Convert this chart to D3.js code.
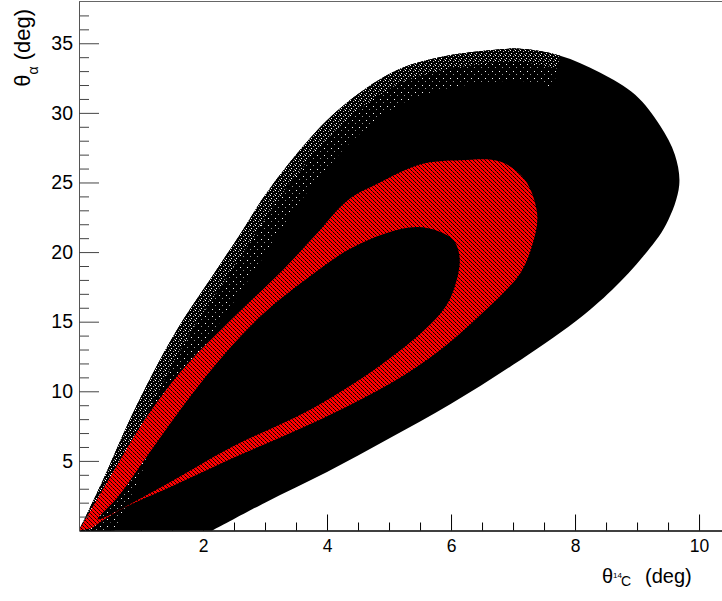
<!DOCTYPE html>
<html lang="en">
<head>
<meta charset="utf-8">
<title>theta alpha vs theta 14C</title>
<script src="https://d3js.org/d3.v7.min.js"></script>
<style>
  body { margin: 0; background: #fff; }
  text { font-family: "Liberation Sans", Arial, sans-serif; }
</style>
</head>
<body>
<div id="chart"></div>
<script>
// outline of the whole event cloud (black), in deg
const envX = [0, 0.39, 0.82, 1.25, 1.68, 2.11, 2.61, 3.10, 4.13, 5.10, 5.82, 6.63, 7.11, 7.76, 8.40, 8.97, 9.37, 9.61, 9.68, 9.47, 9.10, 8.60, 8.0, 7.0, 6.0, 5.0, 4.0, 3.0, 2.15];
const envY = [0, 3.64, 7.95, 11.78, 15.13, 18.0, 21.36, 24.7, 30.0, 33.0, 34.0, 34.5, 34.6, 34.1, 32.9, 31.3, 29.1, 27.0, 24.8, 22.0, 19.7, 17.3, 15.0, 11.9, 9.1, 6.6, 4.2, 2.0, 0];

// red band: outer edge
const outX = [0, 0.57, 1.06, 1.62, 2.18, 2.73, 3.29, 3.84, 4.34, 4.83, 5.5, 6.15, 6.79, 7.19, 7.39, 7.31, 7.12, 6.85, 6.5, 6.0, 5.26, 4.34, 3.41, 2.48, 1.56, 0.63, 0.2];
const outY = [0, 4.35, 7.95, 11.3, 13.93, 16.33, 18.72, 21.36, 23.75, 24.95, 26.3, 26.6, 26.5, 25.2, 22.7, 20.5, 18.5, 17.1, 15.6, 13.6, 11.2, 8.95, 7.0, 5.2, 3.3, 1.4, 0.16];

// red band: inner edge (the black hole inside it)
const inX = [0.3, 1.25, 2.48, 3.72, 4.83, 5.57, 5.9, 6.06, 6.14, 6.05, 5.8, 5.45, 4.95, 4.34, 3.72, 2.98, 2.36, 1.75, 1.13, 0.63];
const inY = [0.8, 2.92, 6.03, 8.66, 11.77, 14.4, 16.0, 17.5, 19.5, 20.8, 21.5, 21.8, 21.36, 20.16, 18.24, 15.6, 12.74, 9.38, 5.55, 2.43];

const xMajor = [2, 4, 6, 8, 10];
const yMajor = [5, 10, 15, 20, 25, 30, 35];

const W = 722, H = 601;

const svg = d3.select("#chart")
  .append("svg")
    .attr("width", W)
    .attr("height", H);

const x = d3.scaleLinear().domain([0, 10.37]).range([79, 722]);
const y = d3.scaleLinear().domain([0, 38]).range([530.5, 1.5]);

const pts = (xs, ys) => xs.map((v, i) => [x(v), y(ys[i])]);
const open = d3.line().curve(d3.curveCatmullRom.alpha(0.5));
const closed = d3.line().curve(d3.curveCatmullRomClosed.alpha(0.5));

// speckle tiles
const defs = svg.append("defs");
function tile(id, size, bg, dots) {
  const p = defs.append("pattern")
    .attr("id", id)
    .attr("patternUnits", "userSpaceOnUse")
    .attr("width", size).attr("height", size);
  p.append("rect").attr("width", size).attr("height", size).attr("fill", bg);
  dots.forEach(d => p.append("rect")
    .attr("x", d[0]).attr("y", d[1]).attr("width", 1).attr("height", 1).attr("fill", d[2]));
}
tile("sparse", 7, "#000", [[2, 1, "#fff"], [5, 4, "#999"]]);
tile("dense", 5, "#000", [[0, 0, "#fff"], [3, 1, "#bbb"], [1, 3, "#fff"], [4, 4, "#888"]]);
tile("redtex", 4, "#ff0000", [[1, 0, "#000"], [3, 2, "#000"], [0, 3, "#500"], [2, 1, "#300"]]);

const envPath = open(pts(envX, envY)) + "Z";

defs.append("clipPath").attr("id", "envclip")
  .append("path").attr("d", envPath);

svg.append("path")
  .attr("d", envPath)
  .attr("fill", "#000");

// speckled upper-left fringe of the cloud
const fringe = pts(envX.slice(0, 14), envY.slice(0, 14));
const fr = svg.append("g").attr("clip-path", "url(#envclip)");
fr.append("path")
  .attr("d", open(fringe))
  .attr("fill", "none")
  .attr("stroke", "url(#sparse)")
  .attr("stroke-width", 64);
fr.append("path")
  .attr("d", open(fringe))
  .attr("fill", "none")
  .attr("stroke", "url(#dense)")
  .attr("stroke-width", 26);

// red band
svg.append("path")
  .attr("d", open(pts(outX, outY)) + "Z" + closed(pts(inX, inY)))
  .attr("fill", "url(#redtex)")
  .attr("fill-rule", "evenodd");

// axes
const xMinor = d3.range(0.5, 10.37, 0.5).filter(v => v % 2 !== 0);
const yMinor = d3.range(1, 38, 1).filter(v => v % 5 !== 0);

svg.append("g")
  .attr("transform", `translate(0,${y(0)})`)
  .call(d3.axisBottom(x).tickValues(xMinor).tickSize(-8).tickFormat(""))
  .call(g => g.select(".domain").remove());

svg.append("g")
  .attr("transform", `translate(0,${y(0)})`)
  .call(d3.axisBottom(x).tickValues(xMajor).tickSizeInner(-16).tickSizeOuter(0).tickPadding(9))
  .call(g => g.select(".domain").attr("stroke-width", 1.5))
  .call(g => g.selectAll(".tick text")
    .attr("font-size", "17.5px")
    .attr("font-family", "Liberation Sans, Arial, sans-serif")
    .attr("fill", "#000"));

svg.append("g")
  .attr("transform", `translate(${x(0)},0)`)
  .call(d3.axisLeft(y).tickValues(yMinor).tickSize(-10).tickFormat(""))
  .call(g => g.select(".domain").remove())
  .call(g => g.selectAll(".tick line").attr("stroke", "#444"));

svg.append("g")
  .attr("transform", `translate(${x(0)},0)`)
  .call(d3.axisLeft(y).tickValues(yMajor).tickSizeInner(-20).tickSizeOuter(0).tickPadding(6))
  .call(g => g.select(".domain").attr("stroke", "#555"))
  .call(g => g.selectAll(".tick line").attr("stroke", "#444"))
  .call(g => g.selectAll(".tick text")
    .attr("font-size", "19.5px")
    .attr("font-family", "Liberation Sans, Arial, sans-serif")
    .attr("fill", "#000"));

// top frame line
svg.append("line")
  .attr("x1", x(0)).attr("x2", W)
  .attr("y1", y(38)).attr("y2", y(38))
  .attr("stroke", "#666");

// axis titles
const xt = svg.append("text")
  .attr("y", 583)
  .attr("font-size", "20px");
xt.append("tspan").attr("x", 602).text("θ");
xt.append("tspan").attr("x", 613).attr("font-size", "8px").attr("dy", -5).text("14");
xt.append("tspan").attr("x", 621).attr("font-size", "14px").attr("dy", 8).text("C");
xt.append("tspan").attr("x", 645).attr("dy", -3).text("(deg)");

const yt = svg.append("text")
  .attr("transform", "translate(30,9) rotate(-90)")
  .attr("text-anchor", "end")
  .attr("font-size", "22px");
yt.append("tspan").text("θ");
yt.append("tspan").attr("font-size", "14px").attr("dy", 8).text("α");
yt.append("tspan").attr("dy", -8).text(" (deg)");
</script>
</body>
</html>
